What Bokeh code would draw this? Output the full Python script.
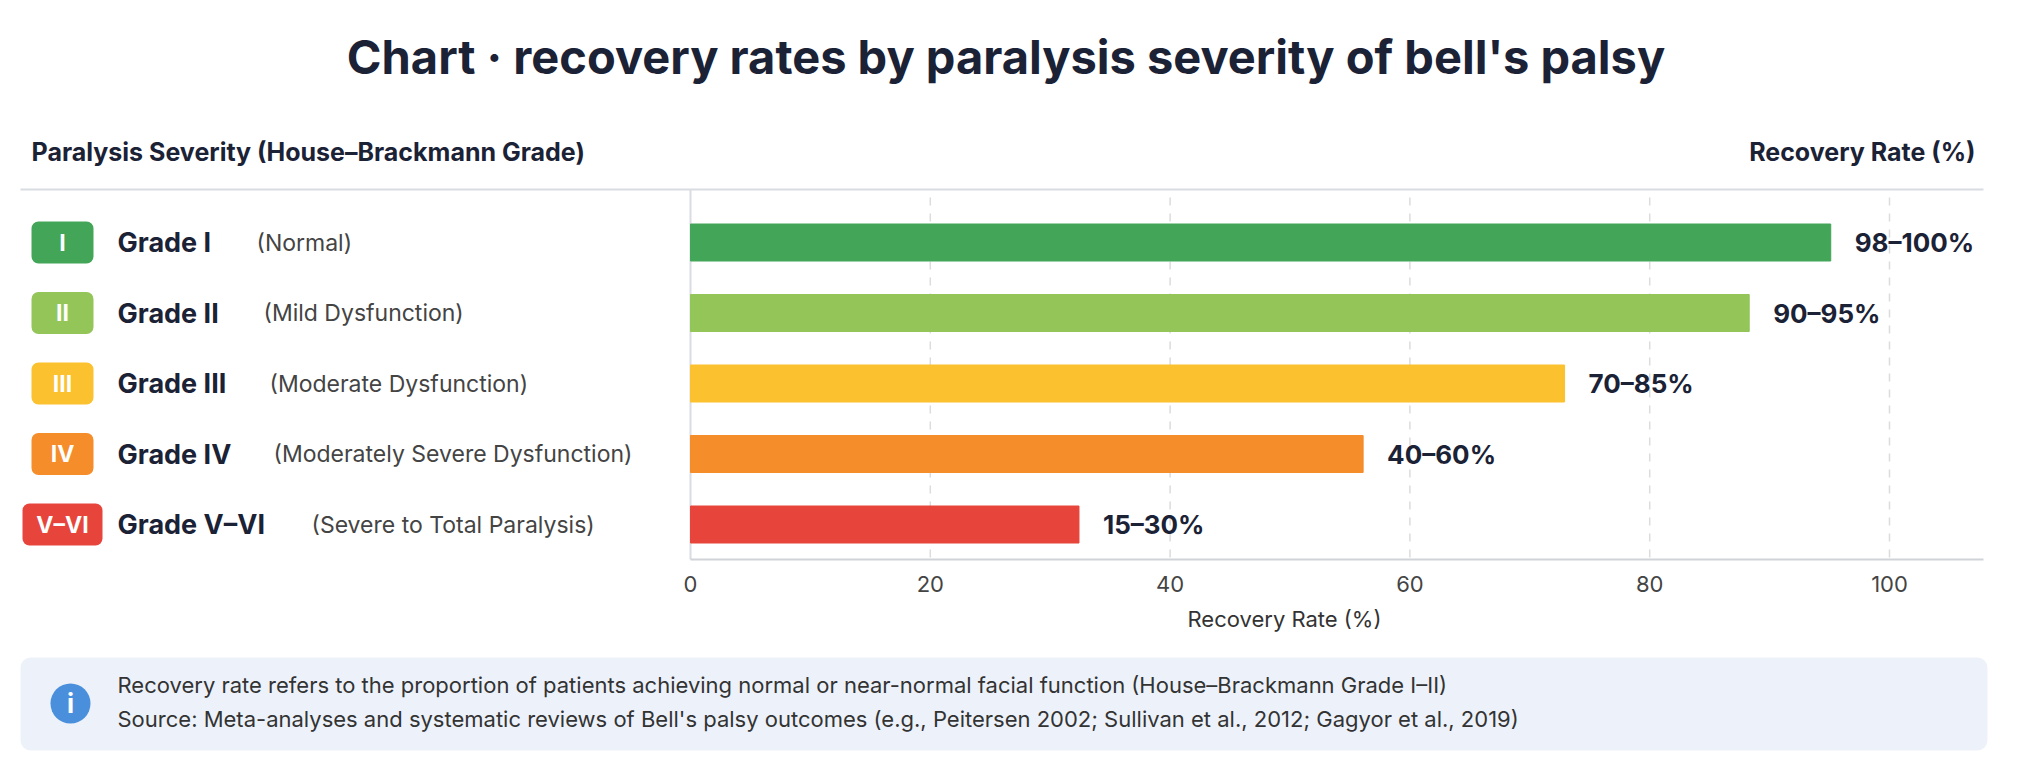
from bokeh.plotting import figure
from bokeh.models import Range1d, LinearAxis, BoxAnnotation, FixedTicker
from bokeh.core.properties import value
from bokeh.embed import file_html
from bokeh.resources import INLINE

badges = ["I", "II", "III", "IV", "V–VI"]
grades = ["Grade I", "Grade II", "Grade III", "Grade IV", "Grade V–VI"]
descs = ["(Normal)", "(Mild Dysfunction)", "(Moderate Dysfunction)",
         "(Moderately Severe Dysfunction)", "(Severe to Total Paralysis)"]
rates = [95.1, 88.3, 72.9, 56.1, 32.4]
rate_labels = ["98–100%", "90–95%", "70–85%", "40–60%", "15–30%"]
colors = ["#43a558", "#93c559", "#fbc12f", "#f58d2b", "#e7443b"]
ticks = [0, 20, 40, 60, 80, 100]

W, H = 2011, 760
X0, SC = 690.0, 11.99            # canvas px of value 0, px per unit
DY = 8
def px(x):                       # canvas px -> data x
    return (x - X0) / SC

F = "Inter"
p = figure(width=W, height=H, output_backend="svg", toolbar_location=None,
           x_range=Range1d(px(0), px(W)), y_range=Range1d(H, 0),
           min_border=0, x_axis_location=None, y_axis_location=None)
p.outline_line_color = None
p.grid.visible = False
p.background_fill_color = "white"

p.text([px(W / 2)], [48 + DY], text=["Chart · recovery rates by paralysis severity of bell's palsy"],
       text_font=value(F), text_font_style="bold", text_font_size="47px",
       text_color="#1b2236", text_align="center", text_baseline="middle")
p.text([px(31)], [143 + DY], text=["Paralysis Severity (House–Brackmann Grade)"],
       text_font=value(F), text_font_style="bold", text_font_size="25px",
       text_color="#1b2236", text_baseline="middle")
p.text([px(1975)], [143 + DY], text=["Recovery Rate (%)"],
       text_font=value(F), text_font_style="bold", text_font_size="25px",
       text_color="#1b2236", text_align="right", text_baseline="middle")

top, bot = 181 + DY, 551 + DY
p.segment([px(20)], [top], [px(1983)], [top], line_color="#d9dce1", line_width=2)

p.segment(ticks[1:], [top + 8] * 5, ticks[1:], [bot] * 5, line_color="#dcdcdc",
          line_width=1.5, line_dash="8 8")
p.segment([0], [top], [0], [bot], line_color="#d9dce1", line_width=2)

row0, step = 234 + DY, 70.5
ys = [row0 + i * step for i in range(len(rates))]

p.hbar(y=ys, left=0, right=rates, height=37, color=colors)
p.text([r + 2.0 for r in rates], ys, text=rate_labels, text_font=value(F),
       text_font_style="bold", text_font_size="26px", text_color="#1b2236",
       text_baseline="middle")

for i, (b, c) in enumerate(zip(badges, colors)):
    half = 40 if len(b) > 3 else 31
    p.add_layout(BoxAnnotation(left=px(62 - half), right=px(62 + half),
                               top=ys[i] - 21, bottom=ys[i] + 21,
                               fill_color=c, fill_alpha=1, line_color=None,
                               border_radius=7, level="underlay"))
p.text([px(62)] * 5, ys, text=badges, text_font=value(F), text_font_style="bold",
       text_font_size="23px", text_color="white", text_align="center",
       text_baseline="middle")
p.text([px(117)] * 5, ys, text=grades, text_font=value(F), text_font_style="bold",
       text_font_size="27px", text_color="#1b2236", text_baseline="middle")
desc_x = [256, 263, 269, 273, 311]
p.text([px(x) for x in desc_x], ys, text=descs, text_font=value(F),
       text_font_size="23px", text_color="#444444", text_baseline="middle")

ax = LinearAxis(fixed_location=bot, ticker=FixedTicker(ticks=ticks),
                axis_line_color=None,
                major_tick_line_color=None, minor_tick_line_color=None,
                major_label_text_font=F, major_label_text_font_size="22px",
                major_label_text_color="#444444", major_label_standoff=10)
p.add_layout(ax, "below")
p.segment([0], [bot], [px(1983)], [bot], line_color="#d0d3d8", line_width=2)
p.text([px(1284)], [610 + DY], text=["Recovery Rate (%)"], text_font=value(F),
       text_font_size="22px", text_color="#333333", text_align="center",
       text_baseline="middle")

p.add_layout(BoxAnnotation(left=px(20), right=px(1987), top=649 + DY, bottom=742 + DY,
                           fill_color="#edf2fa", fill_alpha=1, line_color=None,
                           border_radius=10, level="underlay"))
p.circle([px(70)], [695 + DY], radius=20 / SC, fill_color="#4a8fdc", line_color=None)
p.text([px(70)], [695 + DY], text=["i"], text_font=value(F), text_font_style="bold",
       text_font_size="26px", text_color="white", text_align="center",
       text_baseline="middle")
notes = ["Recovery rate refers to the proportion of patients achieving normal or near-normal facial function (House–Brackmann Grade I–II)",
         "Source: Meta-analyses and systematic reviews of Bell's palsy outcomes (e.g., Peitersen 2002; Sullivan et al., 2012; Gagyor et al., 2019)"]
p.text([px(117)] * 2, [676 + DY, 710 + DY], text=notes, text_font=value(F),
       text_font_size="22px", text_color="#333333", text_baseline="middle")

open("out.html", "w").write(file_html(p, INLINE))
